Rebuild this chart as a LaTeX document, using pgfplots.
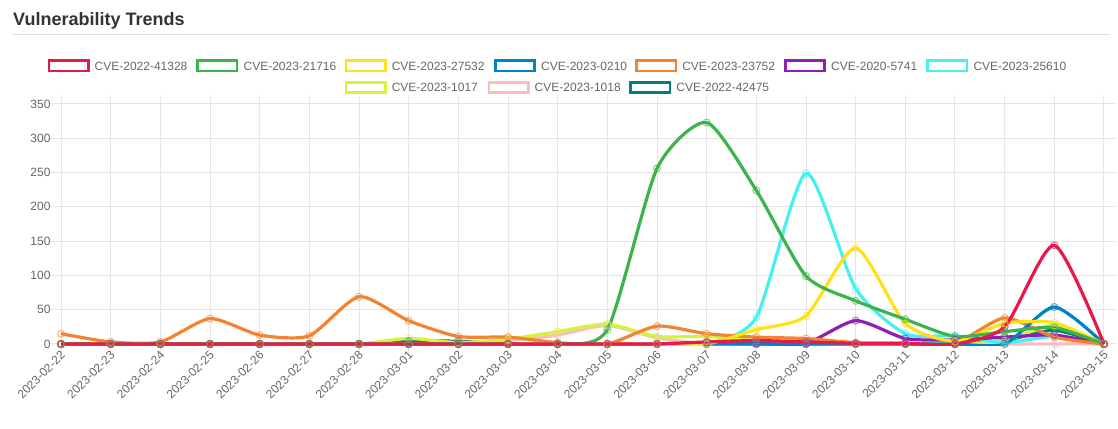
\documentclass[border=0pt]{standalone}
\usepackage{pgfplots}
\pgfplotsset{compat=1.18}
\usepackage{pgfplotstable}
\usepackage{fontspec}
\setmainfont{Liberation Sans}

\definecolor{cred}{HTML}{E6194B}
\definecolor{cgreen}{HTML}{3CB44B}
\definecolor{cyellow}{HTML}{FFE119}
\definecolor{cblue}{HTML}{0082C8}
\definecolor{corange}{HTML}{F58231}
\definecolor{cpurple}{HTML}{911EB4}
\definecolor{ccyan}{HTML}{46F0F0}
\definecolor{clime}{HTML}{D2F53C}
\definecolor{cpink}{HTML}{FABEBE}
\definecolor{cteal}{HTML}{008080}
\definecolor{tgray}{HTML}{666666}
\definecolor{titlec}{HTML}{333333}

\pgfplotstableread{
x red green yellow blue orange purple cyan lime pink teal
0 0 0 0 0 15 0 0 0 0 0
1 0 0 0 0 3 0 0 0 0 0
2 0 0 0 0 3 0 0 0 0 0
3 0 0 0 0 37 0 0 0 0 0
4 0 0 0 0 13 0 0 0 0 0
5 0 0 0 0 12 0 0 0 0 0
6 0 0 0 0 69 0 0 0 0 0
7 0 0 0 0 34 0 0 8 0 4
8 0 0 0 0 11 0 0 2 0 4
9 0 0 0 0 10 0 0 7 5 0
10 0 0 0 0 2 0 0 18 13 0
11 0 21 0 0 0 0 0 29 27 0
12 0 256 0 0 26 0 0 11 9 0
13 3 323 0 0 15 2 0 11 0 0
14 5 224 21 0 10 1 39 5 0 0
15 3 99 41 0 8 1 249 2 0 0
16 1 63 140 0 2 34 81 0 0 0
17 1 36 30 0 1 8 15 0 0 0
18 0 11 4 0 1 6 12 0 0 0
19 25 18 30 0 38 10 2 5 0 5
20 144 24 31 54 10 13 11 27 0 20
21 0 0 0 0 0 0 0 0 0 0
}\datatable

\pgfplotsset{ser/.style={color=#1, line width=3.2pt, smooth, tension=0.4,
  mark=o, mark size=3.5pt,
  mark options={line width=1.1pt, draw=#1, draw opacity=0.6, fill=none, solid}}}

\newcommand{\legitem}[4]{%
  \draw[line width=2.6pt, draw=#3, fill=white] (#1pt+1.3pt,#2pt-5.2pt) rectangle (#1pt+40.7pt,#2pt+5.2pt);
  \node[anchor=base west, inner sep=0pt, text=tgray, font=\fontsize{12}{14}\selectfont] at (#1pt+47pt,#2pt-4.3pt) {#4};}

\begin{document}
\begin{tikzpicture}
\useasboundingbox (0,0) rectangle (1118pt,428pt);
\node[anchor=base west, inner sep=0pt, text=titlec, font=\fontsize{18}{20}\selectfont\bfseries] at (13pt,402.3pt) {Vulnerability Trends};
\draw[line width=1pt, color=black!13] (13pt,393.7pt) -- (1110pt,393.7pt);

\legitem{47.5}{362.2}{cred}{CVE-2022-41328}
\legitem{196.4}{362.2}{cgreen}{CVE-2023-21716}
\legitem{344.6}{362.2}{cyellow}{CVE-2023-27532}
\legitem{493.9}{362.2}{cblue}{CVE-2023-0210}
\legitem{635.1}{362.2}{corange}{CVE-2023-23752}
\legitem{784.0}{362.2}{cpurple}{CVE-2020-5741}
\legitem{926.3}{362.2}{ccyan}{CVE-2023-25610}
\legitem{344.6}{340.5}{clime}{CVE-2023-1017}
\legitem{487.5}{340.5}{cpink}{CVE-2023-1018}
\legitem{629.2}{340.5}{cteal}{CVE-2022-42475}

\begin{axis}[
  at={(58.02pt,82.29pt)}, anchor=south west,
  scale only axis, width=1048.96pt, height=241.71pt,
  xmin=-0.06, xmax=21.06, ymin=-2.5, ymax=350,
  xtick={0,...,21},
  xticklabels={2023-02-22,2023-02-23,2023-02-24,2023-02-25,2023-02-26,2023-02-27,2023-02-28,2023-03-01,2023-03-02,2023-03-03,2023-03-04,2023-03-05,2023-03-06,2023-03-07,2023-03-08,2023-03-09,2023-03-10,2023-03-11,2023-03-12,2023-03-13,2023-03-14,2023-03-15},
  ytick={0,50,...,350},
  grid=major, grid style={line width=1pt, color=black!10},
  axis line style={draw=none},
  tick align=outside, major tick length=9pt,
  tick style={line width=1pt, color=black!10},
  /pgf/number format/assume math mode=true,
  ticklabel style={font=\fontsize{12}{14}\selectfont, text=tgray},
  yticklabel style={anchor=east, inner sep=0pt, xshift=1.7pt},
  xticklabel style={xshift=-1pt, yshift=4.7pt, rotate=45, anchor=north east, inner sep=0pt},
]
\addplot[ser=cteal] table[x=x,y=teal] {\datatable};
\addplot[ser=cpink] table[x=x,y=pink] {\datatable};
\addplot[ser=clime] table[x=x,y=lime] {\datatable};
\addplot[ser=ccyan] table[x=x,y=cyan] {\datatable};
\addplot[ser=cpurple] table[x=x,y=purple] {\datatable};
\addplot[ser=corange] table[x=x,y=orange] {\datatable};
\addplot[ser=cblue] table[x=x,y=blue] {\datatable};
\addplot[ser=cyellow] table[x=x,y=yellow] {\datatable};
\addplot[ser=cgreen] table[x=x,y=green] {\datatable};
\addplot[ser=cred] table[x=x,y=red] {\datatable};
\end{axis}
\end{tikzpicture}
\end{document}
